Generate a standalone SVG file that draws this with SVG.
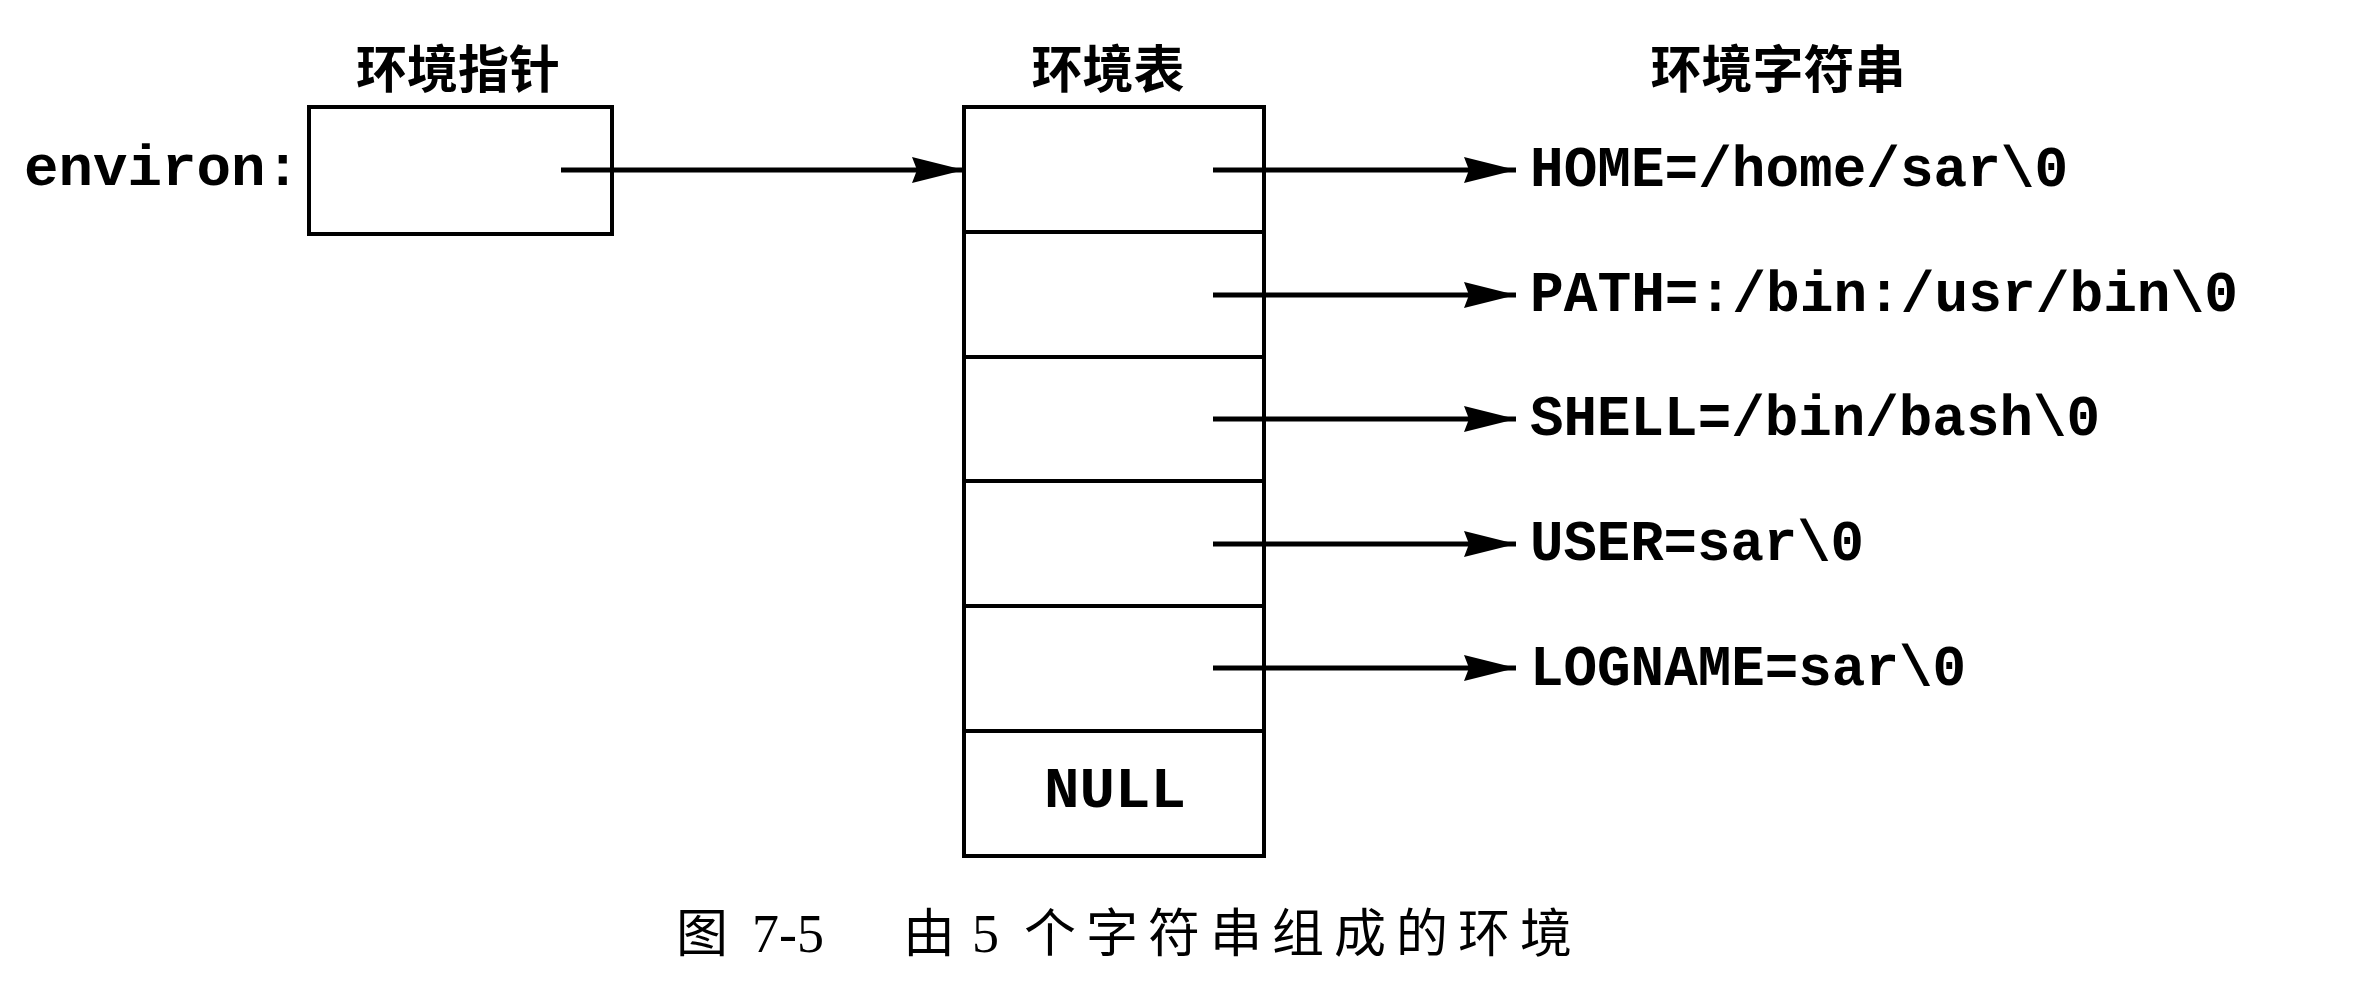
<svg xmlns="http://www.w3.org/2000/svg" width="2378" height="1006" viewBox="0 0 2378 1006">
<style>
.box{fill:none;stroke:#000;stroke-width:4}
.ln{stroke:#000;stroke-width:5;fill:none}
.mono{font-family:"Liberation Mono","Courier New",monospace;font-weight:bold;font-size:58px;fill:#000}
.title{font-family:"Noto Sans CJK SC",sans-serif;font-weight:bold;font-size:51px;fill:#000;text-anchor:middle}
.cap{font-family:"Liberation Serif","Noto Sans CJK SC",serif;font-size:54px;fill:#000}
.capcjk{font-family:"Noto Sans CJK SC",sans-serif;font-size:52px;fill:#000}
</style>
<defs>
<marker id="ah" viewBox="0 0 52 26" refX="52" refY="13" markerWidth="52" markerHeight="26" markerUnits="userSpaceOnUse" orient="auto">
<path d="M0,0 L52,13 L0,26 L5,13 Z" fill="#000"/>
</marker>
</defs>
<rect width="2378" height="1006" fill="#fff"/>
<g id="titles">
<text class="title" x="458" y="88">环境指针</text>
<text class="title" x="1108" y="88">环境表</text>
<text class="title" x="1778" y="88">环境字符串</text>
</g>
<g id="environ">
<text class="mono" x="24" y="185" textLength="276" lengthAdjust="spacingAndGlyphs">environ:</text>
<rect class="box" x="309" y="107" width="303" height="127"/>
</g>
<g id="table">
<rect class="box" x="964" y="107" width="300" height="749"/>
<line class="box" x1="964" y1="232" x2="1264" y2="232"/>
<line class="box" x1="964" y1="357" x2="1264" y2="357"/>
<line class="box" x1="964" y1="481" x2="1264" y2="481"/>
<line class="box" x1="964" y1="606" x2="1264" y2="606"/>
<line class="box" x1="964" y1="731" x2="1264" y2="731"/>
<text class="mono" x="1044" y="807" textLength="142" lengthAdjust="spacingAndGlyphs">NULL</text>
</g>
<g id="strings">
<text class="mono" x="1530" y="186" textLength="538" lengthAdjust="spacingAndGlyphs">HOME=/home/sar\0</text>
<text class="mono" x="1530" y="311" textLength="708" lengthAdjust="spacingAndGlyphs">PATH=:/bin:/usr/bin\0</text>
<text class="mono" x="1530" y="435" textLength="570" lengthAdjust="spacingAndGlyphs">SHELL=/bin/bash\0</text>
<text class="mono" x="1530" y="560" textLength="334" lengthAdjust="spacingAndGlyphs">USER=sar\0</text>
<text class="mono" x="1530" y="685" textLength="436" lengthAdjust="spacingAndGlyphs">LOGNAME=sar\0</text>
</g>
<g id="connectors">
<line class="ln" x1="561" y1="170" x2="964" y2="170" marker-end="url(#ah)"/>
<line class="ln" x1="1213" y1="170" x2="1516" y2="170" marker-end="url(#ah)"/>
<line class="ln" x1="1213" y1="295" x2="1516" y2="295" marker-end="url(#ah)"/>
<line class="ln" x1="1213" y1="419" x2="1516" y2="419" marker-end="url(#ah)"/>
<line class="ln" x1="1213" y1="544" x2="1516" y2="544" marker-end="url(#ah)"/>
<line class="ln" x1="1213" y1="668" x2="1516" y2="668" marker-end="url(#ah)"/>
</g>
<g id="caption">
<text class="capcjk" x="676" y="952">图</text>
<text class="cap" x="752" y="952">7-5</text>
<text class="capcjk" x="903" y="952">由</text>
<text class="cap" x="972" y="952">5</text>
<text class="capcjk" x="1024" y="952" letter-spacing="10">个字符串组成的环境</text>
</g>
</svg>
